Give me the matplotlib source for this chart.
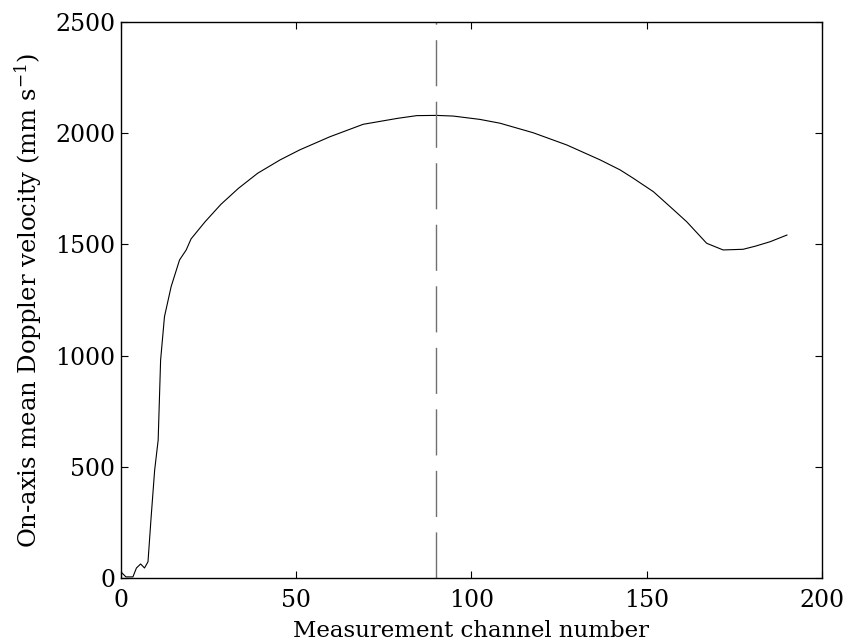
import matplotlib
matplotlib.use("Agg")
import matplotlib.pyplot as plt

# Data
channel = [0, 1.4, 3.4, 4.4, 5.6, 6.7, 7.7, 8.6, 9.6, 10.6, 11.3, 12.4, 14.3, 16.7,
           18.6, 20, 24, 28.5, 33.5, 39, 45.4, 51, 59.6, 69.1, 79, 84.4, 90, 94.8,
           102.4, 108.1, 117.6, 127.2, 136.7, 142.4, 146.2, 151.9, 156.5, 161.4,
           167.1, 171.8, 177.5, 181, 185.2, 190]
velocity = [27, 5, 5, 45, 63, 45, 73, 275, 485, 620, 980, 1175, 1310, 1430,
            1475, 1525, 1602, 1680, 1752, 1820, 1880, 1925, 1984, 2040, 2067, 2079, 2080, 2077,
            2062, 2045, 2002, 1947, 1880, 1835, 1797, 1737, 1672, 1602,
            1505, 1475, 1478, 1492, 1512, 1542]
marker_channel = 90
xlim = (0, 200)
ylim = (0, 2500)
xticks = [0, 50, 100, 150, 200]
yticks = [0, 500, 1000, 1500, 2000, 2500]

plt.rcParams['font.family'] = ['DejaVu Serif']
plt.rcParams['mathtext.fontset'] = 'dejavuserif'

fig = plt.figure(figsize=(8.48, 6.43), dpi=100)
ax = fig.add_axes([0.1427, 0.1011, 0.9693 - 0.1427, 0.9658 - 0.1011])

ax.plot(channel, velocity, color='black', lw=0.8)
ax.plot([marker_channel, marker_channel], [ylim[0], ylim[1]], color='#707070',
        lw=1.0, dashes=(33.2, 11.1))

ax.set_xlim(*xlim)
ax.set_ylim(*ylim)
ax.set_xticks(xticks)
ax.set_yticks(yticks)
ax.tick_params(direction='in', length=5, width=0.8, top=True, right=True,
               labelsize=17)
ax.tick_params(axis='x', pad=8)
ax.tick_params(axis='y', pad=4)
for s in ax.spines.values():
    s.set_linewidth(1.0)

ax.set_xlabel('Measurement channel number', fontsize=16.5, labelpad=6)
ax.set_ylabel(r'On-axis mean Doppler velocity (mm s$^{\mathrm{-1}}$)', fontsize=17.5, labelpad=8)

fig.savefig('out.png', dpi=100)
